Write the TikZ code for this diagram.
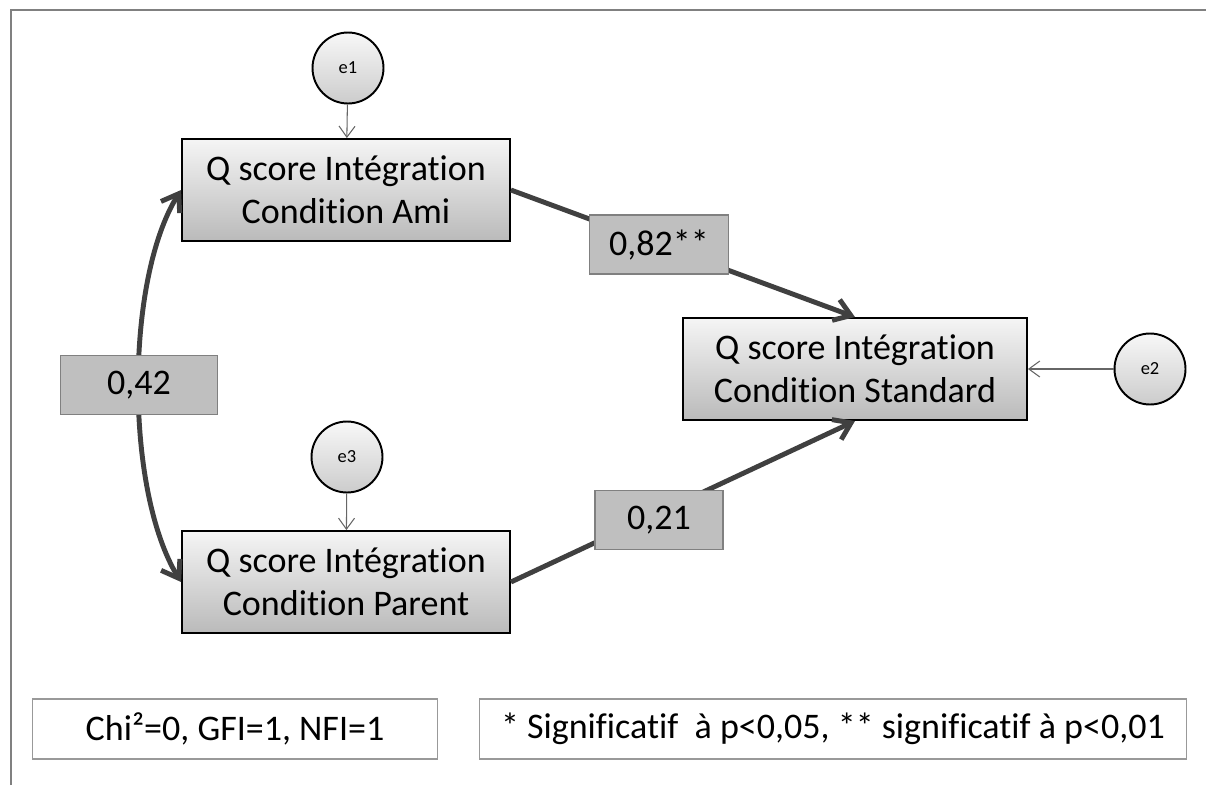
\documentclass[tikz,border=0pt]{standalone}
\usepackage{fontspec}
\setmainfont{Carlito}[Ligatures=NoCommon]
\usetikzlibrary{arrows.meta,shadows}

\begin{document}
\begin{tikzpicture}[x=0.02cm, y=-0.02cm,
        var/.style={draw, line width=1.1pt, top color=black!4, bottom color=black!27,
            minimum width=6.56cm, minimum height=2.04cm, align=center,
            font=\fontsize{20.5}{24.6}\selectfont,
            drop shadow={opacity=0.25, shadow xshift=0.8pt, shadow yshift=-0.8pt}},
        err/.style={draw, shape=circle, line width=1.1pt, top color=black!3, bottom color=black!20,
            minimum size=1.42cm, inner sep=0pt, font=\fontsize{10.5}{12}\selectfont},
        coef/.style={draw=black!50, fill=black!25, line width=0.8pt, minimum height=1.18cm,
            font=\fontsize{20.5}{24.6}\selectfont},
        indice/.style={draw=black!40, fill=white, line width=0.6pt, minimum height=1.2cm,
            font=\fontsize{20.5}{24.6}\selectfont},
        effet/.style={draw=black!75, line width=2.8pt, -{Straight Barb[length=3.2mm, width=4.4mm]}},
        cov/.style={draw=black!75, line width=2.8pt,
            {Straight Barb[length=3.2mm, width=4.4mm]}-{Straight Barb[length=3.2mm, width=4.4mm]}},
        res/.style={draw=black!60, line width=0.6pt, -{Straight Barb[length=2.2mm, width=3.2mm]}}]
    \useasboundingbox (0,0) rectangle (1206,785);
    \draw[black!50, line width=1.7pt] (11,785) -- (11,10) -- (1206,10);

    \node (ami) at (346,190) [var] {Q score Intégration\\Condition Ami};
    \node (parent) at (346,582) [var] {Q score Intégration\\Condition Parent};
    \node (std) at (855,369) [var, minimum width=6.88cm] {Q score Intégration\\Condition Standard};

    \node (e1) at (348,68) [err] {e1};
    \node (e3) at (347,457) [err] {e3};
    \node (e2) at (1150,369) [err] {e2};

    \draw[res] (e1) -- (ami);
    \draw[res] (e3) -- (parent);
    \draw[res] (e2) -- (std);

    \draw[effet] (ami.east) -- (std.north)
        node[coef, pos=0.43, minimum width=2.78cm] (b1) {0,82**};
    \draw[effet] (parent.east) -- (std.south)
        node[coef, pos=0.43, minimum width=2.56cm, yshift=-0.14cm] (b2) {0,21};
    \draw[cov] (ami.west) .. controls (125,280) and (125,490) .. (parent.west)
        node[coef, pos=0.5, minimum width=3.14cm] (r12) {0,42};

    \node (chi) at (235,729) [indice, minimum width=8.12cm] {Chi²=0, GFI=1, NFI=1};
    \node (sig) at (833,729) [indice, minimum width=14.16cm] {* Significatif~ à p<0,05, ** significatif à p<0,01};
\end{tikzpicture}
\end{document}
